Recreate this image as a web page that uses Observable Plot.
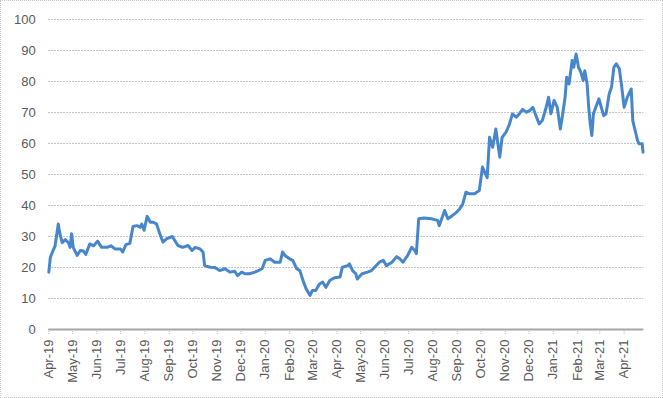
<!DOCTYPE html>
<html>
<head>
<meta charset="utf-8">
<script src="https://cdn.jsdelivr.net/npm/d3@7"></script>
<script src="https://cdn.jsdelivr.net/npm/@observablehq/plot@0.6"></script>
<style>
  html, body { margin: 0; padding: 0; background: #fff; }
  #chart svg { display: block; outline: 1px dotted #c4c4c4; outline-offset: -1px; }
</style>
</head>
<body>
<div id="chart"></div>
<script>
const dates = [
  "2019-04-01","2019-04-03","2019-04-05","2019-04-09","2019-04-13","2019-04-15","2019-04-18","2019-04-22","2019-04-26","2019-04-28",
  "2019-04-30","2019-05-02","2019-05-07","2019-05-11","2019-05-15","2019-05-18","2019-05-23","2019-05-28","2019-06-02","2019-06-07",
  "2019-06-14","2019-06-19","2019-06-24","2019-07-01","2019-07-04","2019-07-08","2019-07-13","2019-07-17","2019-07-22","2019-07-26",
  "2019-07-28","2019-07-31","2019-08-04","2019-08-08","2019-08-12","2019-08-16","2019-08-20","2019-08-24","2019-08-29","2019-09-05",
  "2019-09-12","2019-09-18","2019-09-25","2019-09-30","2019-10-04","2019-10-10","2019-10-14","2019-10-16","2019-10-23","2019-10-29",
  "2019-11-04","2019-11-11","2019-11-17","2019-11-23","2019-11-27","2019-12-02","2019-12-06","2019-12-12","2019-12-19","2019-12-28",
  "2020-01-01","2020-01-07","2020-01-13","2020-01-20","2020-01-23","2020-01-26","2020-02-01","2020-02-05","2020-02-10","2020-02-14",
  "2020-02-18","2020-02-22","2020-02-27","2020-03-01","2020-03-05","2020-03-10","2020-03-14","2020-03-18","2020-03-23","2020-03-29",
  "2020-04-05","2020-04-08","2020-04-15","2020-04-17","2020-04-21","2020-04-25","2020-04-27","2020-05-03","2020-05-10","2020-05-15",
  "2020-05-19","2020-05-25","2020-05-30","2020-06-03","2020-06-10","2020-06-16","2020-06-20","2020-06-24","2020-06-30","2020-07-05",
  "2020-07-09","2020-07-11","2020-07-14","2020-07-21","2020-07-30","2020-08-07","2020-08-09","2020-08-16","2020-08-20","2020-08-26",
  "2020-08-31","2020-09-04","2020-09-08","2020-09-12","2020-09-16","2020-09-23","2020-09-29","2020-10-03","2020-10-09","2020-10-12",
  "2020-10-16","2020-10-20","2020-10-22","2020-10-25","2020-10-28","2020-11-02","2020-11-06","2020-11-10","2020-11-15","2020-11-19",
  "2020-11-23","2020-11-28","2020-12-02","2020-12-06","2020-12-10","2020-12-14","2020-12-18","2020-12-23","2020-12-26","2020-12-29",
  "2021-01-02","2021-01-06","2021-01-10","2021-01-13","2021-01-16","2021-01-18","2021-01-21","2021-01-25","2021-01-27","2021-01-30",
  "2021-02-02","2021-02-05","2021-02-08","2021-02-10","2021-02-13","2021-02-15","2021-02-17","2021-02-19","2021-02-21","2021-02-24",
  "2021-02-28","2021-03-03","2021-03-06","2021-03-09","2021-03-13","2021-03-16","2021-03-19","2021-03-22","2021-03-26","2021-03-29",
  "2021-04-01","2021-04-05","2021-04-10","2021-04-12","2021-04-15","2021-04-18","2021-04-20","2021-04-24","2021-04-25"
];
const values = [
  18.5,23.3,24.6,27,34,31,28,29,28,26.5,
  30.9,26.5,23.9,25.5,25.3,24.2,27.6,27,28.5,26.5,
  26.5,27,26,26,25,27.4,27.8,33.2,33.5,33,
  34,32,36.5,34.6,34.6,34,30.9,28.2,29.3,30,
  27.1,26.5,27.1,25.5,26.5,26,25,20.6,20.1,20,
  19,19.6,18.5,18.8,17.4,18.5,18,18,18.5,19.6,
  22.3,22.8,21.7,21.7,25,23.9,22.8,22.3,19.6,19,
  15.8,13.1,11,12.6,12.6,14.7,15.3,13.6,15.8,16.7,
  16.9,20.1,20.6,21.2,19,18,16.3,18,18.5,19,
  20.1,21.7,22.3,20.6,21.7,23.5,22.8,21.7,23.9,26.5,
  25.5,24.5,35.7,36,35.7,35.2,33.5,38.4,35.7,36.8,
  37.8,38.9,40.5,44.3,43.8,43.8,44.8,52.4,49,62,
  58.8,64.7,61,55.6,62,63.7,66,69.5,68.5,69.6,
  71,70.1,70.6,71.7,69,66.3,67.4,71.7,74.9,69.6,
  73.9,71.7,64.7,69.6,74.9,81.4,79.2,86.8,84.6,88.9,
  84.6,83,80.3,83.5,79.2,71.7,66.3,62.6,69.6,71.7,
  74.4,71.7,69,69.6,76,78.2,84.6,85.7,84,78.2,
  71.7,74.9,77.6,67.4,64.2,61,59.9,59.9,57.2
];
const yTicks = [0,10,20,30,40,50,60,70,80,90,100];
const monthTicks = d3.utcMonths(new Date("2019-04-01"), new Date("2021-04-02"));

const data = dates.map((d, i) => ({date: new Date(d), value: values[i]}));

const chart = Plot.plot({
  width: 663,
  height: 398,
  marginLeft: 48.3,
  marginRight: 19.7,
  marginTop: 19,
  marginBottom: 69,
  style: {fontFamily: "'Liberation Sans', Arial, sans-serif", fontSize: "13px", color: "#595959", background: "#fff"},
  x: {type: "utc", domain: [new Date("2019-04-01"), new Date("2021-04-26")]},
  y: {domain: [0, 100]},
  marks: [
    Plot.ruleY(yTicks.filter(t => t > 0), {stroke: "#b0b0b0", strokeDasharray: "1.5,1.5", strokeWidth: 1}),
    Plot.axisY({ticks: yTicks, tickSize: 0, tickPadding: 13, label: null, fill: "#595959"}),
    Plot.axisX({ticks: monthTicks, tickFormat: d3.utcFormat("%b-%y"), tickRotate: -90, tickSize: 5, tickPadding: 5, label: null, stroke: "#c4c4c4", strokeDasharray: "1,1", fill: "#595959"}),
    Plot.ruleY([0], {stroke: "#a6a6a6", strokeWidth: 2}),
    Plot.lineY(data, {x: "date", y: "value", stroke: "#4886cb", strokeWidth: 3, strokeLinejoin: "round"})
  ]
});
document.getElementById("chart").appendChild(chart);
</script>
</body>
</html>
